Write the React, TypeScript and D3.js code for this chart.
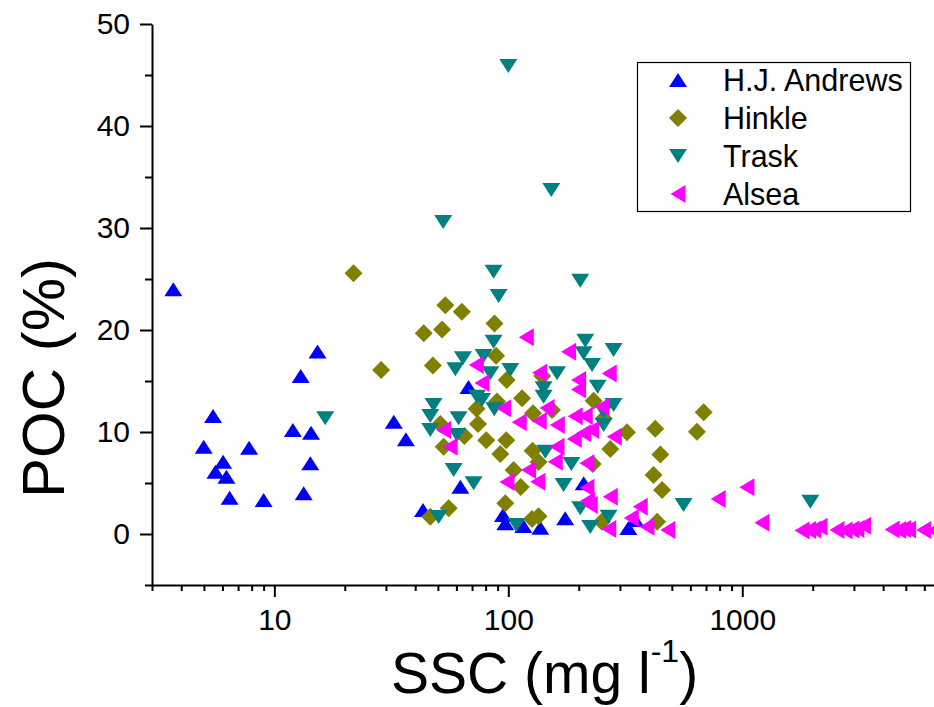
import React, { useEffect, useRef } from "react";
import * as d3 from "d3";

// SSC (mg/l) and POC (%) per river
const andrewsSSC = [3.7, 5.47, 4.99, 6.04, 5.6, 6.24, 6.44, 7.8, 9.0, 12.0, 12.96, 15.3, 14.35, 14.25, 13.35, 32.4, 36.5, 43.2, 67.6, 62.4, 94.9, 97.1, 115.9, 137, 175, 210, 326, 349];
const andrewsPOC = [24.0, 11.57, 8.56, 7.09, 6.11, 5.62, 3.56, 8.46, 3.33, 10.2, 15.5, 17.9, 9.93, 6.93, 3.99, 11.0, 9.28, 2.35, 14.4, 4.64, 1.86, 1.05, 0.78, 0.62, 1.54, 4.97, 0.59, 1.37];

const hinkleSSC = [21.8, 28.6, 43.5, 47.6, 46.4, 53.8, 63.3, 52.1, 87.3, 88.7, 98.4, 114.5, 89.5, 73.2, 74.2, 51.2, 52.9, 64.9, 80.5, 98.0, 92.4, 127, 134.7, 105.4, 113, 55.6, 97.1, 126.3, 134.7, 231.5, 255.5, 229.6, 272.9, 321.5, 424.6, 446.7, 417.8, 454, 432.5, 640, 684, 251, 127.5, 153.7, 139.7];
const hinklePOC = [25.56, 16.08, 19.68, 16.52, 1.7, 22.42, 21.79, 20.05, 20.63, 17.47, 15.1, 13.3, 13.0, 12.27, 10.78, 10.78, 8.56, 9.6, 9.2, 9.2, 7.84, 8.16, 7.06, 6.27, 4.6, 2.52, 3.01, 1.47, 1.74, 13.06, 11.32, 6.86, 8.33, 9.98, 10.32, 7.79, 5.78, 4.31, 1.21, 10.03, 11.93, 1.21, 11.83, 12.16, 15.5];

const traskSSC = [100, 152.7, 52.7, 86.5, 90.9, 203, 86.5, 213.3, 64.0, 59.4, 78.4, 83.8, 102, 209.8, 228, 281.8, 161.5, 141.5, 141.5, 240.9, 73.5, 77.2, 87.1, 47.9, 46.4, 46.4, 61.3, 60.4, 281.8, 255.5, 255.5, 143.9, 186, 58.4, 71.1, 172.3, 50.4, 108.2, 203, 224, 268.3, 561, 1954, 16.5];
const traskPOC = [45.88, 33.73, 30.59, 25.72, 23.33, 24.83, 18.85, 18.95, 17.23, 16.15, 17.45, 15.75, 16.08, 17.72, 16.57, 18.04, 15.75, 14.28, 13.46, 14.44, 13.46, 13.14, 12.23, 12.65, 11.57, 10.2, 11.34, 9.7, 12.65, 11.99, 10.69, 8.07, 6.86, 6.27, 4.97, 4.8, 1.67, 0.88, 2.52, 0.69, 1.7, 2.84, 3.17, 11.34];

const alseaSSC = [119.4, 181, 73, 136, 77.2, 199.7, 270, 199.7, 95.5, 146.4, 251, 111.4, 135.6, 162, 193.3, 213.3, 52.9, 56.4, 191.4, 209.8, 227.3, 283.8, 161.5, 158.8, 216.8, 122.1, 133.7, 98.7, 216.8, 218.6, 224, 272.9, 366.5, 335.5, 391.5, 480.5, 268.8, 789, 1047, 1214, 1800, 1920, 2020, 2150, 2540, 2750, 2940, 3090, 3300, 4370, 4660, 4890, 5140, 5960, 6600];
const alseaPOC = [19.28, 17.87, 16.57, 15.81, 14.8, 15.1, 15.73, 14.17, 12.32, 12.35, 12.48, 10.95, 11.08, 10.69, 11.54, 11.57, 10.2, 8.56, 9.31, 9.87, 10.2, 9.54, 8.56, 7.09, 6.93, 6.27, 5.13, 5.1, 4.53, 3.25, 2.84, 3.66, 2.68, 1.57, 0.72, 0.39, 0.49, 3.43, 4.58, 1.11, 0.35, 0.4, 0.45, 0.7, 0.4, 0.35, 0.45, 0.5, 0.8, 0.45, 0.4, 0.5, 0.45, 0.4, 0.35];

const seriesNames = ["H.J. Andrews", "Hinkle", "Trask", "Alsea"];
const yMajor = [0, 10, 20, 30, 40, 50];
const yMinor = [-5, 5, 15, 25, 35, 45];
const xMajor = [10, 100, 1000];

const FONT = "'Liberation Sans', Arial, sans-serif";
const W = 934;
const H = 707;

const shapes: Record<string, string> = {
  up: "M0,-7L9,7L-9,7Z",
  diamond: "M0,-9L9,0L0,9L-9,0Z",
  down: "M-9,-7L9,-7L0,7Z",
  left: "M-7.5,0L7.5,-9L7.5,9Z",
};

const series = [
  { name: seriesNames[0], x: andrewsSSC, y: andrewsPOC, color: "#0000ff", shape: "up" },
  { name: seriesNames[1], x: hinkleSSC, y: hinklePOC, color: "#808000", shape: "diamond" },
  { name: seriesNames[2], x: traskSSC, y: traskPOC, color: "#008080", shape: "down" },
  { name: seriesNames[3], x: alseaSSC, y: alseaPOC, color: "#ff00ff", shape: "left" },
];

const App = () => {
  const ref = useRef<SVGSVGElement>(null);

  useEffect(() => {
    const svg = d3.select(ref.current);
    svg.selectAll("*").remove();

    const x = d3.scaleLog().domain([3, 7000]).range([152, 940]);
    const y = d3.scaleLinear().domain([-5, 50]).range([585, 24]);

    // minor x ticks: 2..9 of each decade
    const xMinor: number[] = [];
    [1, 10, 100, 1000].forEach((dec) => {
      for (let k = 2; k <= 9; k++) {
        const v = dec * k;
        if (v >= 3 && v <= 7000) xMinor.push(v);
      }
    });

    const styleAxis = (g: any) => {
      g.selectAll("line").attr("stroke", "#000").attr("stroke-width", 2);
      g.selectAll("path.domain").attr("stroke", "#000").attr("stroke-width", 2);
      g.selectAll("text").attr("font-family", FONT).attr("font-size", 30).attr("fill", "#000");
    };

    // y axis
    svg.append("g")
      .attr("transform", "translate(152,0)")
      .call(d3.axisLeft(y).tickValues(yMinor).tickSize(7).tickSizeOuter(0).tickFormat(() => ""))
      .call(styleAxis);
    svg.append("g")
      .attr("transform", "translate(152,0)")
      .call(d3.axisLeft(y).tickValues(yMajor).tickSize(12).tickSizeOuter(0).tickPadding(10).tickFormat(d3.format("d")))
      .call(styleAxis)
      .call((g: any) => g.select("path.domain").remove());

    // x axis
    svg.append("g")
      .attr("transform", "translate(0,585)")
      .call(d3.axisBottom(x).tickValues(xMinor).tickSize(6).tickSizeOuter(0).tickFormat(() => ""))
      .call(styleAxis);
    svg.append("g")
      .attr("transform", "translate(0,585)")
      .call(d3.axisBottom(x).tickValues(xMajor).tickSize(12).tickSizeOuter(0).tickPadding(12).tickFormat(d3.format("d")))
      .call(styleAxis)
      .call((g: any) => g.select("path.domain").remove());

    // points
    const plot = svg.append("g");
    series.forEach((s) => {
      plot.append("g")
        .selectAll("path")
        .data(s.x.map((v, i) => [v, s.y[i]]))
        .enter()
        .append("path")
        .attr("d", shapes[s.shape])
        .attr("transform", (d) => `translate(${x(d[0])},${y(d[1])})`)
        .attr("fill", s.color);
    });

    // axis titles
    const xt = svg.append("text")
      .attr("x", 391)
      .attr("y", 693)
      .attr("font-family", FONT)
      .attr("font-size", 57)
      .attr("fill", "#000");
    xt.append("tspan").text("SSC (mg l");
    xt.append("tspan").attr("font-size", 32).attr("dy", -31).text("-1");
    xt.append("tspan").attr("dy", 31).text(")");

    svg.append("text")
      .attr("transform", "translate(64,378) rotate(-90)")
      .attr("text-anchor", "middle")
      .attr("font-family", FONT)
      .attr("font-size", 60)
      .attr("fill", "#000")
      .text("POC (%)");

    // legend
    const lg = svg.append("g");
    lg.append("rect")
      .attr("x", 637.5).attr("y", 62.5)
      .attr("width", 273).attr("height", 149)
      .attr("fill", "#fff").attr("stroke", "#000").attr("stroke-width", 1.2);
    series.forEach((s, i) => {
      const cy = 80 + i * 38;
      lg.append("path")
        .attr("d", shapes[s.shape])
        .attr("transform", `translate(678,${cy})`)
        .attr("fill", s.color);
      lg.append("text")
        .attr("x", 723)
        .attr("y", cy)
        .attr("dy", "0.36em")
        .attr("font-family", FONT)
        .attr("font-size", 30.5)
        .attr("fill", "#000")
        .text(s.name);
    });
  }, []);

  return (
    <svg
      ref={ref}
      width={W}
      height={H}
      style={{ position: "absolute", left: 0, top: 0, background: "#fff" }}
    />
  );
};

export default App;
